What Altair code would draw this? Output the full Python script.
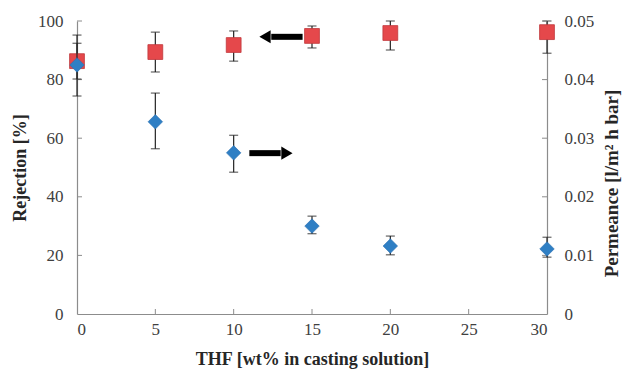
import altair as alt
import pandas as pd

thf = [0, 5, 10, 15, 20, 30]
rejection = [86.3, 89.4, 91.8, 94.9, 95.9, 96.2]
rej_lo = [80.2, 82.6, 86.3, 90.8, 90.1, 89.0]
rej_hi = [92.4, 96.2, 96.6, 98.3, 100.0, 100.0]
permeance = [0.0425, 0.0328, 0.0275, 0.0150, 0.0116, 0.0111]
perm_lo = [0.0372, 0.0282, 0.0242, 0.0137, 0.0101, 0.0097]
perm_hi = [0.0476, 0.0377, 0.0305, 0.0167, 0.0133, 0.0131]

left_ticks = [20, 40, 60, 80, 100]
right_ticks = [0.01, 0.02, 0.03, 0.04, 0.05]
x_ticks = [5, 10, 15, 20, 25]

# arrows (annotation): shaft start, shaft end, head position, y on left scale
arrow_left = {"x1": 12.4, "x2": 14.4, "head": 12.0, "y": 94.6}
arrow_right = {"x1": 11.0, "x2": 13.0, "head": 13.4, "y": 54.9}

FONT = "Liberation Serif"
RED = "#E5484B"
BLUE = "#2F7FC4"
ERR = "#222222"
AXC = "#8C8C8C"

df = pd.DataFrame({"thf": thf, "rej": rejection, "rlo": rej_lo, "rhi": rej_hi,
                   "perm": permeance, "plo": perm_lo, "phi": perm_hi})

xs = alt.X("thf:Q", scale=alt.Scale(domain=[0, 30], nice=False),
           axis=alt.Axis(values=[0, 5, 10, 15, 20, 25, 30], ticks=False, grid=False,
                         title="THF [wt% in casting solution]", labelPadding=7,
                         titlePadding=13))

yl_scale = alt.Scale(domain=[0, 100], nice=False)
yr_scale = alt.Scale(domain=[0, 0.05], nice=False)

base = alt.Chart(df)

left_axis = alt.Axis(values=[0, 20, 40, 60, 80, 100], ticks=False, grid=False,
                     title="Rejection [%]", labelPadding=14, titlePadding=8)
right_axis = alt.Axis(values=[0, 0.01, 0.02, 0.03, 0.04, 0.05], ticks=False, grid=False,
                      format="~g", title="Permeance [l/m² h bar]", orient="right",
                      labelPadding=17, titlePadding=9, titleAngle=270,
                      titleBaseline="top", titleFontSize=19, titleY=162)

# inner ticks
lt = pd.DataFrame({"v": left_ticks})
xt = pd.DataFrame({"v": x_ticks})
rt = pd.DataFrame({"v": right_ticks})

left_inner = alt.Chart(lt).mark_rule(color=AXC, strokeWidth=1).encode(
    y=alt.Y("v:Q", scale=yl_scale, axis=left_axis), x=alt.value(0), x2=alt.value(5))
x_inner = alt.Chart(xt).mark_rule(color=AXC, strokeWidth=1).encode(
    x=alt.X("v:Q", scale=alt.Scale(domain=[0, 30], nice=False)),
    y=alt.value(293), y2=alt.value(288))

rej_err = base.mark_rule(color=ERR, strokeWidth=1.2).encode(
    x=xs, y=alt.Y("rlo:Q", scale=yl_scale), y2="rhi:Q")
rej_cap_lo = base.mark_tick(color=ERR, thickness=1.2, size=9, orient="horizontal").encode(
    x="thf:Q", y=alt.Y("rlo:Q", scale=yl_scale))
rej_cap_hi = base.mark_tick(color=ERR, thickness=1.2, size=9, orient="horizontal").encode(
    x="thf:Q", y=alt.Y("rhi:Q", scale=yl_scale))
rej_pts = base.mark_point(shape="square", filled=True, size=220, fill=RED, opacity=1,
                          stroke="#C0393C", strokeWidth=0.8).encode(
    x="thf:Q", y=alt.Y("rej:Q", scale=yl_scale))

al = pd.DataFrame([arrow_left])
ar = pd.DataFrame([arrow_right])
arrow_l_shaft = alt.Chart(al).mark_rule(color="black", strokeWidth=6).encode(
    x="x1:Q", x2="x2:Q", y=alt.Y("y:Q", scale=yl_scale))
arrow_l_head = alt.Chart(al).mark_point(shape="triangle-left", filled=True, size=170,
                                        color="black", opacity=1).encode(
    x="head:Q", y=alt.Y("y:Q", scale=yl_scale))
arrow_r_shaft = alt.Chart(ar).mark_rule(color="black", strokeWidth=6).encode(
    x="x1:Q", x2="x2:Q", y=alt.Y("y:Q", scale=yl_scale))
arrow_r_head = alt.Chart(ar).mark_point(shape="triangle-right", filled=True, size=170,
                                        color="black", opacity=1).encode(
    x="head:Q", y=alt.Y("y:Q", scale=yl_scale))

left_layer = alt.layer(left_inner, x_inner, rej_err, rej_cap_lo, rej_cap_hi, rej_pts,
                       arrow_l_shaft, arrow_l_head, arrow_r_shaft, arrow_r_head)

right_inner = alt.Chart(rt).mark_rule(color=AXC, strokeWidth=1).encode(
    y=alt.Y("v:Q", scale=yr_scale, axis=right_axis), x=alt.value(465), x2=alt.value(470))
perm_err = base.mark_rule(color=ERR, strokeWidth=1.2).encode(
    x="thf:Q", y=alt.Y("plo:Q", scale=yr_scale), y2="phi:Q")
perm_cap_lo = base.mark_tick(color=ERR, thickness=1.2, size=9, orient="horizontal").encode(
    x="thf:Q", y=alt.Y("plo:Q", scale=yr_scale))
perm_cap_hi = base.mark_tick(color=ERR, thickness=1.2, size=9, orient="horizontal").encode(
    x="thf:Q", y=alt.Y("phi:Q", scale=yr_scale))
perm_pts = base.mark_point(shape="diamond", filled=True, size=210, fill=BLUE, opacity=1,
                           stroke="#2A6FB0", strokeWidth=0.6).encode(
    x="thf:Q", y=alt.Y("perm:Q", scale=yr_scale))

right_layer = alt.layer(right_inner, perm_err, perm_cap_lo, perm_cap_hi, perm_pts)

chart = alt.layer(left_layer, right_layer).resolve_scale(y="independent").properties(
    width=470, height=293,
    autosize=alt.AutoSizeParams(type="none"),
    padding={"left": 77, "top": 21, "right": 75, "bottom": 60},
).configure_view(stroke=None).configure_axis(
    domainColor=AXC, domainWidth=1.2,
    labelFont=FONT, labelFontSize=17, labelColor="#404040",
    titleFont=FONT, titleFontSize=18, titleFontWeight="bold", titleColor="#262626",
)

chart.save("out.html", embed_options={"renderer": "svg", "actions": False})
